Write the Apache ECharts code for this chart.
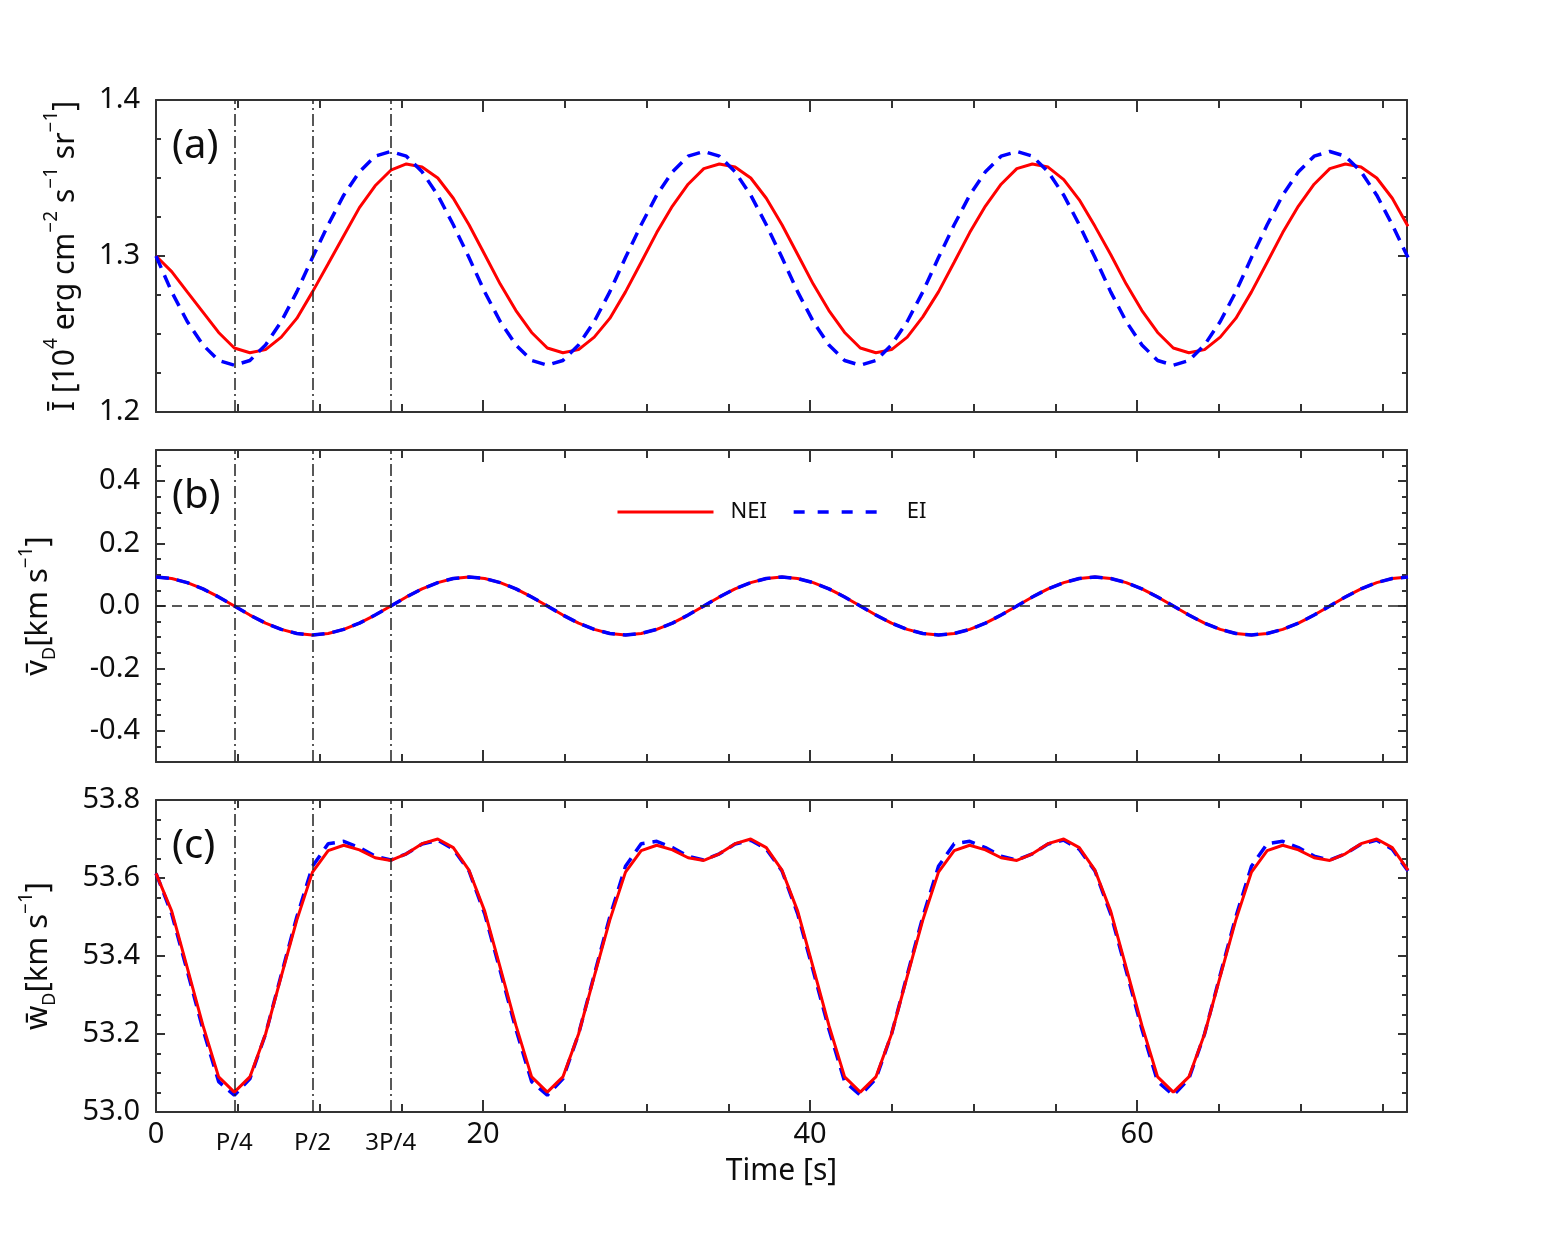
<!DOCTYPE html>
<html>
<head>
<meta charset="utf-8">
<title>NEI / EI time series</title>
<script src="https://cdn.jsdelivr.net/npm/echarts@6/dist/echarts.min.js"></script>
<style>
  html, body { margin: 0; padding: 0; background: #fff; }
  #main { width: 1563px; height: 1250px; }
</style>
</head>
<body>
<div id="main"></div>
<script>
// oscillation period [s]
var P = 19.14;

// sample times [s]
var time = [0, 0.96, 1.91, 2.87, 3.83, 4.79, 5.74, 6.70, 7.66, 8.61,
  9.57, 10.53, 11.48, 12.44, 13.40, 14.36, 15.31, 16.27, 17.23, 18.18,
  19.14, 20.10, 21.05, 22.01, 22.97, 23.93, 24.88, 25.84, 26.80, 27.75,
  28.71, 29.67, 30.62, 31.58, 32.54, 33.50, 34.45, 35.41, 36.37, 37.32,
  38.28, 39.24, 40.19, 41.15, 42.11, 43.07, 44.02, 44.98, 45.94, 46.89,
  47.85, 48.81, 49.76, 50.72, 51.68, 52.64, 53.59, 54.55, 55.51, 56.46,
  57.42, 58.38, 59.33, 60.29, 61.25, 62.21, 63.16, 64.12, 65.08, 66.03,
  66.99, 67.95, 68.90, 69.86, 70.82, 71.78, 72.73, 73.69, 74.65, 75.60,
  76.56];

// (a) mean intensity [1e4 erg cm-2 s-1 sr-1]
var iNEI = [1.300, 1.290, 1.277, 1.264, 1.251, 1.241, 1.238, 1.240, 1.248, 1.260,
  1.277, 1.295, 1.313, 1.331, 1.345, 1.355, 1.359, 1.357, 1.350, 1.337,
  1.320, 1.301, 1.282, 1.265, 1.251, 1.241, 1.238, 1.240, 1.248, 1.260,
  1.277, 1.296, 1.315, 1.332, 1.346, 1.356, 1.359, 1.357, 1.350, 1.337,
  1.320, 1.301, 1.282, 1.265, 1.251, 1.241, 1.238, 1.240, 1.248, 1.261,
  1.277, 1.296, 1.315, 1.332, 1.346, 1.356, 1.359, 1.357, 1.349, 1.336,
  1.319, 1.301, 1.282, 1.265, 1.251, 1.241, 1.238, 1.240, 1.248, 1.260,
  1.277, 1.296, 1.315, 1.332, 1.346, 1.356, 1.359, 1.357, 1.350, 1.337,
  1.319];
var iEI = [1.300, 1.277, 1.258, 1.243, 1.233, 1.230, 1.233, 1.243, 1.258, 1.277,
  1.299, 1.320, 1.339, 1.354, 1.364, 1.367, 1.364, 1.354, 1.339, 1.320,
  1.299, 1.277, 1.258, 1.243, 1.233, 1.230, 1.233, 1.243, 1.258, 1.277,
  1.299, 1.320, 1.339, 1.354, 1.364, 1.367, 1.364, 1.354, 1.339, 1.320,
  1.299, 1.277, 1.258, 1.243, 1.233, 1.230, 1.233, 1.243, 1.258, 1.277,
  1.299, 1.320, 1.339, 1.354, 1.364, 1.367, 1.364, 1.354, 1.339, 1.320,
  1.299, 1.277, 1.258, 1.243, 1.233, 1.230, 1.233, 1.243, 1.258, 1.277,
  1.299, 1.320, 1.339, 1.354, 1.364, 1.367, 1.364, 1.354, 1.339, 1.320,
  1.299];

// (b) Doppler velocity [km/s]
var vNEI = [0.093, 0.088, 0.075, 0.055, 0.029, 0.000, -0.029, -0.055, -0.075, -0.088,
  -0.093, -0.088, -0.075, -0.055, -0.029, 0.000, 0.029, 0.055, 0.075, 0.088,
  0.093, 0.088, 0.075, 0.055, 0.029, 0.000, -0.029, -0.055, -0.075, -0.088,
  -0.093, -0.088, -0.075, -0.055, -0.029, 0.000, 0.029, 0.055, 0.075, 0.088,
  0.093, 0.088, 0.075, 0.055, 0.029, 0.000, -0.029, -0.055, -0.075, -0.088,
  -0.093, -0.088, -0.075, -0.055, -0.029, 0.000, 0.029, 0.055, 0.075, 0.088,
  0.093, 0.088, 0.075, 0.055, 0.029, 0.000, -0.029, -0.055, -0.075, -0.088,
  -0.093, -0.088, -0.075, -0.055, -0.029, 0.000, 0.029, 0.055, 0.075, 0.088,
  0.093];
var vEI = [0.093, 0.088, 0.075, 0.055, 0.029, 0.000, -0.029, -0.055, -0.075, -0.088,
  -0.093, -0.088, -0.075, -0.055, -0.029, 0.000, 0.029, 0.055, 0.075, 0.088,
  0.093, 0.088, 0.075, 0.055, 0.029, 0.000, -0.029, -0.055, -0.075, -0.088,
  -0.093, -0.088, -0.075, -0.055, -0.029, 0.000, 0.029, 0.055, 0.075, 0.088,
  0.093, 0.088, 0.075, 0.055, 0.029, 0.000, -0.029, -0.055, -0.075, -0.088,
  -0.093, -0.088, -0.075, -0.055, -0.029, 0.000, 0.029, 0.055, 0.075, 0.088,
  0.093, 0.088, 0.075, 0.055, 0.029, 0.000, -0.029, -0.055, -0.075, -0.088,
  -0.093, -0.088, -0.075, -0.055, -0.029, 0.000, 0.029, 0.055, 0.075, 0.088,
  0.093];

// (c) line width [km/s]
var wNEI = [53.612, 53.515, 53.370, 53.222, 53.090, 53.051, 53.090, 53.200, 53.348, 53.492,
  53.615, 53.670, 53.684, 53.672, 53.652, 53.645, 53.662, 53.688, 53.700, 53.678,
  53.620, 53.515, 53.370, 53.222, 53.090, 53.051, 53.090, 53.200, 53.348, 53.492,
  53.615, 53.670, 53.684, 53.672, 53.652, 53.645, 53.662, 53.688, 53.700, 53.678,
  53.620, 53.515, 53.370, 53.222, 53.090, 53.051, 53.090, 53.200, 53.348, 53.492,
  53.615, 53.670, 53.684, 53.672, 53.652, 53.645, 53.662, 53.688, 53.700, 53.678,
  53.620, 53.515, 53.370, 53.222, 53.090, 53.051, 53.090, 53.200, 53.348, 53.492,
  53.615, 53.670, 53.684, 53.672, 53.652, 53.645, 53.662, 53.688, 53.700, 53.678,
  53.620];
var wEI = [53.612, 53.508, 53.362, 53.212, 53.078, 53.043, 53.085, 53.200, 53.352, 53.500,
  53.630, 53.688, 53.694, 53.678, 53.656, 53.646, 53.662, 53.687, 53.697, 53.674,
  53.618, 53.508, 53.362, 53.212, 53.078, 53.043, 53.085, 53.200, 53.352, 53.500,
  53.630, 53.688, 53.694, 53.678, 53.656, 53.646, 53.662, 53.687, 53.697, 53.674,
  53.618, 53.508, 53.362, 53.212, 53.078, 53.043, 53.085, 53.200, 53.352, 53.500,
  53.630, 53.688, 53.694, 53.678, 53.656, 53.646, 53.662, 53.687, 53.697, 53.674,
  53.618, 53.508, 53.362, 53.212, 53.078, 53.043, 53.085, 53.200, 53.352, 53.500,
  53.630, 53.688, 53.694, 53.678, 53.656, 53.646, 53.662, 53.687, 53.697, 53.674,
  53.618];

// ticks and labels
var xTicksMajor = [0, 20, 40, 60];
var xTicksMinor = [5, 10, 15, 25, 30, 35, 45, 50, 55, 65, 70, 75];
var phaseTimes = [P / 4, P / 2, 3 * P / 4];
var phaseNames = ['P/4', 'P/2', '3P/4'];
var xLabels = [0, P / 4, P / 2, 3 * P / 4, 20, 40, 60];
var aTicksMajor = [1.2, 1.3, 1.4];
var aTicksMinor = [1.225, 1.25, 1.275, 1.325, 1.35, 1.375];
var bTicksMajor = [-0.4, -0.2, 0, 0.2, 0.4];
var bTicksMinor = [-0.45, -0.35, -0.3, -0.25, -0.15, -0.1, -0.05, 0.05, 0.1, 0.15, 0.25, 0.3, 0.35, 0.45];
var cTicksMajor = [53.0, 53.2, 53.4, 53.6, 53.8];
var cTicksMinor = [53.05, 53.1, 53.15, 53.25, 53.3, 53.35, 53.45, 53.5, 53.55, 53.65, 53.7, 53.75];

var FONT = "'Noto Sans', 'DejaVu Sans', sans-serif";
var AX = '#333';
var TXT = '#0d0d0d';

var myChart = echarts.init(document.getElementById('main'), null, {renderer: 'canvas'});

var grids = [
  {left: 156, right: 156, top: 100, height: 312},
  {left: 156, right: 156, top: 450, height: 312},
  {left: 156, right: 156, top: 800, height: 312}
];

// four x axes per grid: bottom long/short ticks, top long/short ticks
function xAxesFor(g, withLabels) {
  var list = [];
  [['bottom', xTicksMajor, 12], ['bottom', xTicksMinor, 8], ['top', xTicksMajor, 12], ['top', xTicksMinor, 8]].forEach(function (d, i) {
    var ax = {
      type: 'value', gridIndex: g, position: d[0], min: 0, max: 76.5,
      splitLine: {show: false},
      axisLine: {show: i === 0 || i === 2, onZero: false, lineStyle: {color: AX, width: 2}},
      axisTick: {show: true, inside: true, length: d[2], customValues: d[1], lineStyle: {color: AX, width: 2}},
      axisLabel: {show: false}
    };
    if (i === 0 && withLabels) {
      ax.axisLabel = {
        show: true, customValues: xLabels, margin: 8,
        fontSize: 29, color: TXT, fontFamily: FONT,
        formatter: function (v) {
          for (var k = 0; k < phaseTimes.length; k++) {
            if (Math.abs(v - phaseTimes[k]) < 1e-6) return '{p|' + phaseNames[k] + '}';
          }
          return String(v);
        },
        rich: {p: {fontSize: 24, color: TXT, fontFamily: FONT, padding: [11, 0, 0, 0]}}
      };
      ax.name = 'Time [s]';
      ax.nameLocation = 'middle';
      ax.nameGap = 44;
      ax.nameTextStyle = {fontSize: 30, color: TXT, fontFamily: FONT};
    }
    list.push(ax);
  });
  return list;
}

// four y axes per grid: left long/short ticks, right long/short ticks
function yAxesFor(g, min, max, major, minor, name, nameGap, rich) {
  var list = [];
  [['left', major, 9], ['left', minor, 5], ['right', major, 9], ['right', minor, 5]].forEach(function (d, i) {
    var ax = {
      type: 'value', gridIndex: g, position: d[0], min: min, max: max,
      splitLine: {show: false},
      axisLine: {show: i === 0 || i === 2, onZero: false, lineStyle: {color: AX, width: 2}},
      axisTick: {show: true, inside: true, length: d[2], customValues: d[1], lineStyle: {color: AX, width: 2}},
      axisLabel: {show: false}
    };
    if (i === 0) {
      ax.axisLabel = {
        show: true, customValues: major, margin: 16,
        fontSize: 29, color: TXT, fontFamily: FONT,
        formatter: function (v) { return v.toFixed(1); }
      };
      ax.name = name;
      ax.nameLocation = 'middle';
      ax.nameGap = nameGap;
      ax.nameTextStyle = {fontSize: 30, color: TXT, fontFamily: FONT, rich: rich};
    }
    list.push(ax);
  });
  return list;
}

// rich styles for super- and subscripts in the axis names
var supRich = {
  m: {fontSize: 30, lineHeight: 46, color: TXT, fontFamily: FONT},
  u: {fontSize: 19, lineHeight: 19, color: TXT, fontFamily: FONT, verticalAlign: 'top'}
};
var subRich = {
  m: {fontSize: 31, lineHeight: 42, color: TXT, fontFamily: FONT},
  s: {fontSize: 18, lineHeight: 18, color: TXT, fontFamily: FONT, verticalAlign: 'bottom'},
  u: {fontSize: 19, lineHeight: 19, color: TXT, fontFamily: FONT, verticalAlign: 'top'}
};

var xAxes = [].concat(xAxesFor(0, false), xAxesFor(1, false), xAxesFor(2, true));
var yAxes = [].concat(
  yAxesFor(0, 1.2, 1.4, aTicksMajor, aTicksMinor,
    '{m|Ī [10}{u|4}{m| erg cm}{u|−2}{m| s}{u|−1}{m| sr}{u|−1}{m|]}', 68, supRich),
  yAxesFor(1, -0.5, 0.5, bTicksMajor, bTicksMinor,
    '{m|v̄}{s|D}{m|[km s}{u|−1}{m|]}', 97, subRich),
  yAxesFor(2, 53.0, 53.8, cTicksMajor, cTicksMinor,
    '{m|w̄}{s|D}{m|[km s}{u|−1}{m|]}', 97, subRich)
);

function pairs(vals) {
  return time.map(function (t, i) { return [t, vals[i]]; });
}

var phaseLines = {
  silent: true, symbol: ['none', 'none'], animation: false,
  label: {show: false},
  emphasis: {disabled: true},
  lineStyle: {color: '#222', width: 1.5, type: [12, 4, 2, 4]},
  data: phaseTimes.map(function (t) { return {xAxis: t}; })
};

function lineSeries(name, g, vals, color, dashed, z, markLine) {
  var s = {
    name: name, type: 'line', xAxisIndex: 4 * g, yAxisIndex: 4 * g,
    data: pairs(vals), showSymbol: false, symbol: 'none', animation: false,
    lineStyle: {color: color, width: dashed ? 3.5 : 3, type: dashed ? [13, 8] : 'solid'},
    itemStyle: {color: color},
    emphasis: {disabled: true},
    z: z
  };
  if (markLine) s.markLine = markLine;
  return s;
}

var zeroLine = echarts.util.clone(phaseLines);
zeroLine.data = zeroLine.data.concat([{yAxis: 0, lineStyle: {type: [10, 6], color: '#222', width: 1.5}}]);

var option = {
  backgroundColor: '#fff',
  animation: false,
  grid: grids,
  xAxis: xAxes,
  yAxis: yAxes,
  legend: {
    left: 611, top: 496, itemWidth: 96, itemHeight: 14, itemGap: 25,
    selectedMode: false,
    itemStyle: {opacity: 0},
    lineStyle: {width: 3},
    data: [
      {name: 'NEI'},
      {name: 'EI', lineStyle: {type: [11, 13], width: 3.5}}
    ],
    textStyle: {fontSize: 22, color: TXT, fontFamily: FONT, padding: [0, 0, 0, 12]}
  },
  graphic: [
    {type: 'text', left: 172, top: 127, style: {text: '(a)', font: '40px ' + FONT, fill: TXT}},
    {type: 'text', left: 172, top: 477, style: {text: '(b)', font: '40px ' + FONT, fill: TXT}},
    {type: 'text', left: 172, top: 827, style: {text: '(c)', font: '40px ' + FONT, fill: TXT}}
  ],
  series: [
    lineSeries('NEI', 0, iNEI, '#ff0000', false, 3, phaseLines),
    lineSeries('EI', 0, iEI, '#0000ff', true, 4),
    lineSeries('NEI', 1, vNEI, '#ff0000', false, 3, zeroLine),
    lineSeries('EI', 1, vEI, '#0000ff', true, 4),
    lineSeries('EI', 2, wEI, '#0000ff', true, 3, phaseLines),
    lineSeries('NEI', 2, wNEI, '#ff0000', false, 4)
  ]
};

myChart.setOption(option);
</script>
</body>
</html>
